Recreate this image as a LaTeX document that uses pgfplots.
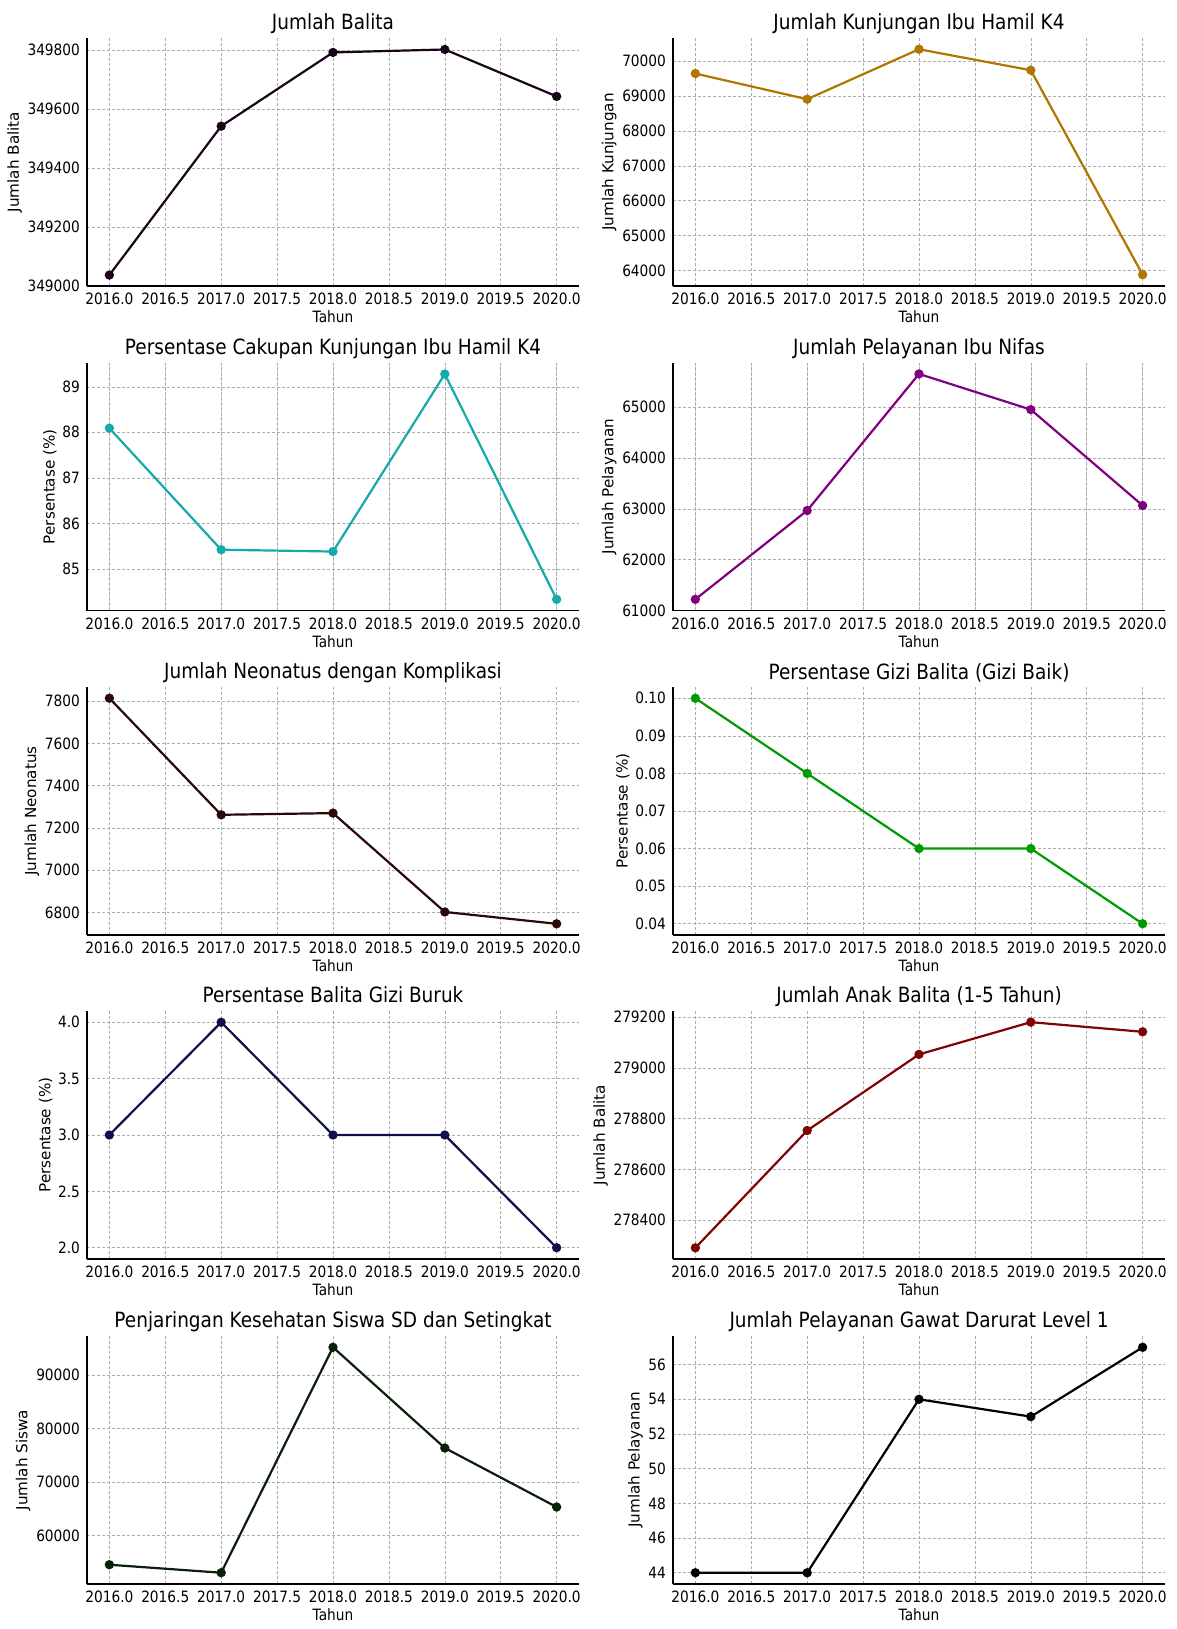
\documentclass[border=0pt]{standalone}
\usepackage{pgfplots}
\pgfplotsset{compat=1.18}
\usepackage{fontspec}
\setmainfont{DejaVu Sans}[FakeStretch=0.88]
\newfontfamily\vfont{DejaVu Sans}

\definecolor{c1}{RGB}{25,5,25}
\definecolor{c2}{RGB}{176,118,0}
\definecolor{c3}{RGB}{20,170,170}
\definecolor{c4}{RGB}{128,0,128}
\definecolor{c5}{RGB}{40,8,8}
\definecolor{c6}{RGB}{0,155,0}
\definecolor{c7}{RGB}{15,15,75}
\definecolor{c8}{RGB}{125,5,5}
\definecolor{c9}{RGB}{10,30,10}
\definecolor{c10}{RGB}{0,0,0}

\pgfplotsset{
 every axis title/.style={at={(0.5,1)}, anchor=base, yshift=4pt, font=\fontsize{10.5}{12}\selectfont},
 sub/.style={
  scale only axis, width=246pt, height=124pt, anchor=south west,
  xmin=2015.8, xmax=2020.2,
  xtick={2016,2016.5,2017,2017.5,2018,2018.5,2019,2019.5,2020},
  axis x line*=bottom, axis y line*=left,
  axis line style={line width=0.6pt},
  grid=major, major grid style={dash pattern=on 1.6pt off 0.9pt, gray!65, line width=0.3pt},
  major tick length=0pt,
  scaled y ticks=false, scaled x ticks=false,
  /pgf/number format/fixed,
  /pgf/number format/precision=3,
  /pgf/number format/assume math mode=true,
  /pgf/number format/1000 sep={},
  xticklabel style={/pgf/number format/.cd, fixed, fixed zerofill, precision=1, 1000 sep={}, assume math mode=true},
  tick label style={font=\fontsize{7.8}{9}\selectfont},
  xlabel style={font=\fontsize{7.8}{9}\selectfont},
  ylabel style={font=\vfont\fontsize{7.6}{9}\selectfont},
  ylabel shift=-4pt,
  xlabel={Tahun},
  xlabel style={at={(axis description cs:0.5,0)}, anchor=base, yshift=-18.3pt},
 },
 ln/.style={line width=1.1pt, mark=*, mark size=1.75pt, mark options={solid}},
}

\begin{document}
\begin{tikzpicture}
\path[use as bounding box] (0,0) rectangle (588.5pt,814.5pt);

% Row 1 left
\begin{axis}[sub, at={(43.5pt,671.5pt)}, title={Jumlah Balita}, ylabel={Jumlah Balita},
  ymin=349000, ymax=349841, ytick={349000,349200,349400,349600,349800}]
\addplot[ln, c1] coordinates {(2016,349037) (2017,349542) (2018,349792) (2019,349802) (2020,349643)};
\end{axis}

% Row 1 right
\begin{axis}[sub, at={(336.5pt,671.5pt)}, title={Jumlah Kunjungan Ibu Hamil K4}, ylabel={Jumlah Kunjungan},
  ymin=63564, ymax=70655, ytick={64000,65000,66000,67000,68000,69000,70000}]
\addplot[ln, c2] coordinates {(2016,69638) (2017,68905) (2018,70333) (2019,69733) (2020,63886)};
\end{axis}

% Row 2 left
\begin{axis}[sub, at={(43.5pt,509.15pt)}, title={Persentase Cakupan Kunjungan Ibu Hamil K4}, ylabel={Persentase (\%)},
  ymin=84.08, ymax=89.53, ytick={85,86,87,88,89}]
\addplot[ln, c3] coordinates {(2016,88.09) (2017,85.42) (2018,85.38) (2019,89.28) (2020,84.33)};
\end{axis}

% Row 2 right
\begin{axis}[sub, at={(336.5pt,509.15pt)}, title={Jumlah Pelayanan Ibu Nifas}, ylabel={Jumlah Pelayanan},
  ymin=61000, ymax=65869, ytick={61000,62000,63000,64000,65000}]
\addplot[ln, c4] coordinates {(2016,61223) (2017,62967) (2018,65648) (2019,64948) (2020,63065)};
\end{axis}

% Row 3 left
\begin{axis}[sub, at={(43.5pt,347pt)}, title={Jumlah Neonatus dengan Komplikasi}, ylabel={Jumlah Neonatus},
  ymin=6693, ymax=7867, ytick={6800,7000,7200,7400,7600,7800}]
\addplot[ln, c5] coordinates {(2016,7814) (2017,7262) (2018,7270) (2019,6802) (2020,6746)};
\end{axis}

% Row 3 right
\begin{axis}[sub, at={(336.5pt,347pt)}, title={Persentase Gizi Balita (Gizi Baik)}, ylabel={Persentase (\%)},
  ymin=0.037, ymax=0.103, ytick={0.04,0.05,0.06,0.07,0.08,0.09,0.10},
  yticklabel style={/pgf/number format/.cd, fixed, fixed zerofill, precision=2, assume math mode=true}]
\addplot[ln, c6] coordinates {(2016,0.10) (2017,0.08) (2018,0.06) (2019,0.06) (2020,0.04)};
\end{axis}

% Row 4 left
\begin{axis}[sub, at={(43.5pt,185pt)}, title={Persentase Balita Gizi Buruk}, ylabel={Persentase (\%)},
  ymin=1.9, ymax=4.1, ytick={2.0,2.5,3.0,3.5,4.0},
  yticklabel style={/pgf/number format/.cd, fixed, fixed zerofill, precision=1, assume math mode=true}]
\addplot[ln, c7] coordinates {(2016,3) (2017,4) (2018,3) (2019,3) (2020,2)};
\end{axis}

% Row 4 right
\begin{axis}[sub, at={(336.5pt,185pt)}, title={Jumlah Anak Balita (1-5 Tahun)}, ylabel={Jumlah Balita},
  ymin=278247, ymax=279224, ytick={278400,278600,278800,279000,279200}]
\addplot[ln, c8] coordinates {(2016,278291) (2017,278753) (2018,279053) (2019,279180) (2020,279142)};
\end{axis}

% Row 5 left
\begin{axis}[sub, at={(43.5pt,22.5pt)}, title={Penjaringan Kesehatan Siswa SD dan Setingkat}, ylabel={Jumlah Siswa},
  ymin=50888, ymax=97362, ytick={60000,70000,80000,90000}]
\addplot[ln, c9] coordinates {(2016,54500) (2017,53000) (2018,95250) (2019,76375) (2020,65312)};
\end{axis}

% Row 5 right
\begin{axis}[sub, at={(336.5pt,22.5pt)}, title={Jumlah Pelayanan Gawat Darurat Level 1}, ylabel={Jumlah Pelayanan},
  ymin=43.35, ymax=57.65, ytick={44,46,48,50,52,54,56}]
\addplot[ln, c10] coordinates {(2016,44) (2017,44) (2018,54) (2019,53) (2020,57)};
\end{axis}
\end{tikzpicture}
\end{document}
